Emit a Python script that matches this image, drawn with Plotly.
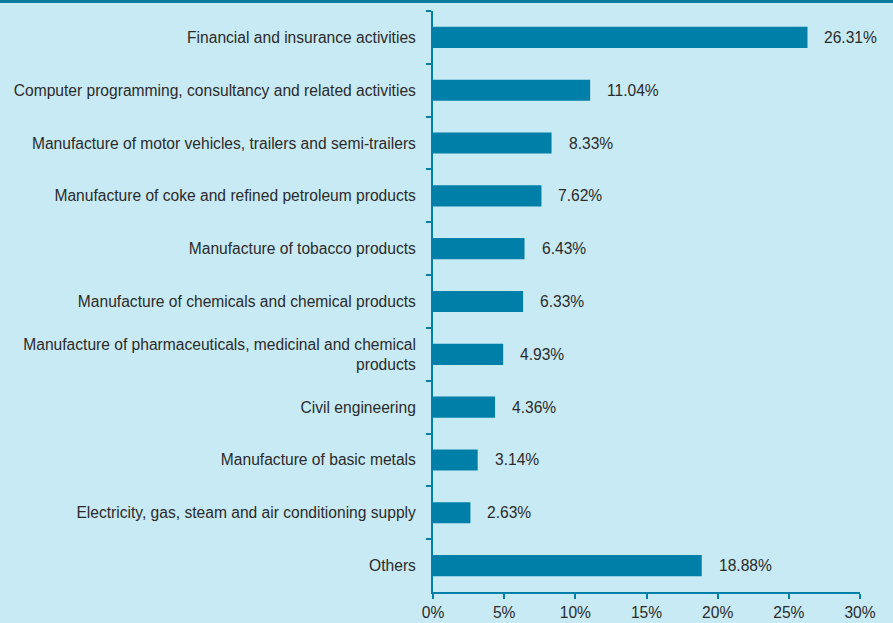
import plotly.graph_objects as go

categories = [
    "Financial and insurance activities",
    "Computer programming, consultancy and related activities",
    "Manufacture of motor vehicles, trailers and semi-trailers",
    "Manufacture of coke and refined petroleum products",
    "Manufacture of tobacco products",
    "Manufacture of chemicals and chemical products",
    "Manufacture of pharmaceuticals, medicinal and chemical<br>products",
    "Civil engineering",
    "Manufacture of basic metals",
    "Electricity, gas, steam and air conditioning supply",
    "Others",
]
values = [26.31, 11.04, 8.33, 7.62, 6.43, 6.33, 4.93, 4.36, 3.14, 2.63, 18.88]
value_labels = ["%.2f%%" % v for v in values]
x_ticks = [0, 5, 10, 15, 20, 25, 30]
x_tick_labels = ["%d%%" % t for t in x_ticks]

BAR = "#0080a8"
BG = "#c8eaf4"
TXT = "#2b2b2b"
FONT = "Liberation Sans"
FS = 15.6

W, H = 893, 623
ML, MR, MT, MB = 433, 33, 11, 31
pw, ph = W - ML - MR, H - MT - MB

fig = go.Figure()
fig.add_trace(go.Bar(
    x=values, y=categories, orientation="h",
    marker=dict(color=BAR, line=dict(width=0)),
    width=0.4, hoverinfo="skip",
))
for c, v, t in zip(categories, values, value_labels):
    fig.add_annotation(x=v, y=c, text=t, showarrow=False, xanchor="left",
                       xshift=15, font=dict(family=FONT, size=FS, color=TXT))

fig.add_shape(type="line", xref="paper", yref="paper",
              x0=-ML / pw, x1=1 + MR / pw, y0=1 + (MT - 1.5) / ph, y1=1 + (MT - 1.5) / ph,
              line=dict(color="#0a7ca0", width=3))

fig.update_layout(
    width=W, height=H,
    margin=dict(l=ML, r=MR, t=MT, b=MB, pad=0, autoexpand=False),
    paper_bgcolor=BG, plot_bgcolor=BG,
    showlegend=False,
    font=dict(family=FONT, size=FS, color=TXT),
    xaxis=dict(range=[0, 30], tickvals=x_ticks, ticktext=x_tick_labels,
               showgrid=False, zeroline=False, showline=True, linecolor=BAR,
               linewidth=2, ticks="outside", ticklen=5, tickwidth=2, tickcolor=BAR,
               automargin=False,
               tickfont=dict(family=FONT, size=FS, color=TXT), fixedrange=True),
    yaxis=dict(autorange="reversed", showgrid=False, showline=True, linecolor=BAR,
               linewidth=2, ticks="outside", tickson="boundaries", ticklen=5,
               tickwidth=2, tickcolor=BAR, ticklabelstandoff=12, automargin=False,
               tickfont=dict(family=FONT, size=FS, color=TXT), fixedrange=True),
)

fig.write_html("out.html")
